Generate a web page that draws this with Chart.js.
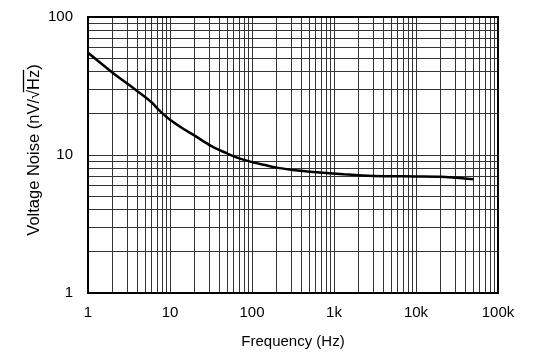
<!DOCTYPE html>
<html>
<head>
<meta charset="utf-8">
<script src="https://cdn.jsdelivr.net/npm/chart.js@4.4.1/dist/chart.umd.min.js"></script>
<style>
  html, body { margin: 0; padding: 0; background: #fff; }
</style>
</head>
<body>
<canvas id="noiseChart" width="539" height="362"></canvas>
<script>
// --- data ---
const freq  = [1, 2, 4, 6, 7.55, 10, 15, 19.3, 32, 49, 62, 95, 144, 200, 316, 615, 1300, 3000, 10000, 20000, 31000, 50000];
const noise = [55, 39.5, 29, 24, 20.8, 18, 15.3, 14, 11.6, 10.3, 9.7, 8.95, 8.45, 8.1, 7.8, 7.5, 7.25, 7.05, 7.0, 6.96, 6.83, 6.67];

const xDecades = [1, 10, 100, 1000, 10000, 100000];
const xLabels  = ['1', '10', '100', '1k', '10k', '100k'];
const yDecades = [1, 10, 100];
const yLabels  = ['1', '10', '100'];

const xTitle = 'Frequency (Hz)';
const yTitle = ['Voltage Noise (nV/\u221A', 'Hz', ')'];

const FONT = 'Liberation Sans, Arial, sans-serif';

// grid lines at 1..9 of every decade
const gridTicks = (decades) => {
    const out = [];
    decades.forEach((d, i) => {
        if (i === decades.length - 1) { out.push({ value: d }); return; }
        for (let k = 1; k < 10; k++) out.push({ value: d * k });
    });
    return out;
};

const labelFor = (decades, labels) => (v) => {
    const i = decades.indexOf(v);
    return i >= 0 ? labels[i] : '';
};

const frameAndTitles = {
    id: 'frameAndTitles',
    afterDraw(chart) {
        const { ctx, chartArea: a } = chart;
        ctx.save();
        ctx.strokeStyle = '#000';
        ctx.lineWidth = 2;
        ctx.strokeRect(a.left, a.top, a.right - a.left, a.bottom - a.top);

        ctx.fillStyle = '#000';
        ctx.font = '15px ' + FONT;
        ctx.textBaseline = 'middle';
        ctx.textAlign = 'center';
        ctx.fillText(xTitle, (a.left + a.right) / 2, 342);

        // rotated y title with an overline above Hz
        ctx.font = '16.5px ' + FONT;
        ctx.translate(34, 150);
        ctx.rotate(-Math.PI / 2);
        ctx.textAlign = 'left';
        const w0 = ctx.measureText(yTitle[0]).width;
        const w1 = ctx.measureText(yTitle[1]).width;
        const w2 = ctx.measureText(yTitle[2]).width;
        const wRoot = ctx.measureText('\u221A').width;
        const x = -(w0 + w1 + w2) / 2;
        ctx.fillText(yTitle[0], x, 0);
        ctx.fillText(yTitle[1], x + w0, 0);
        ctx.fillText(yTitle[2], x + w0 + w1, 0);
        ctx.lineWidth = 1.3;
        ctx.beginPath();
        ctx.moveTo(x + w0 - wRoot * 0.25, -10.5);
        ctx.lineTo(x + w0 + w1, -10.5);
        ctx.stroke();
        ctx.restore();
    }
};

new Chart(document.getElementById('noiseChart'), {
    type: 'line',
    data: {
        datasets: [{
            data: freq.map((f, i) => ({ x: f, y: noise[i] })),
            borderColor: '#000',
            borderWidth: 2.5,
            pointRadius: 0,
            fill: false,
            cubicInterpolationMode: 'monotone'
        }]
    },
    options: {
        responsive: false,
        animation: false,
        layout: { autoPadding: false, padding: { left: 0, top: 17, right: 41, bottom: 0 } },
        plugins: { legend: { display: false }, tooltip: { enabled: false } },
        scales: {
            x: {
                type: 'logarithmic',
                min: 1,
                max: 100000,
                afterBuildTicks: (s) => { s.ticks = gridTicks(xDecades); },
                afterFit: (s) => { s.height = 69; s.paddingLeft = 0; s.paddingRight = 0; },
                grid: { color: '#333', lineWidth: 1, drawTicks: false },
                border: { display: false },
                ticks: {
                    autoSkip: false,
                    maxRotation: 0,
                    padding: 11,
                    color: '#000',
                    font: { family: FONT, size: 15 },
                    callback: labelFor(xDecades, xLabels)
                }
            },
            y: {
                type: 'logarithmic',
                min: 1,
                max: 100,
                afterBuildTicks: (s) => { s.ticks = gridTicks(yDecades); },
                afterFit: (s) => { s.width = 88; s.paddingTop = 0; s.paddingBottom = 0; },
                grid: { color: '#333', lineWidth: 1, drawTicks: false },
                border: { display: false },
                ticks: {
                    autoSkip: false,
                    padding: 15,
                    color: '#000',
                    font: { family: FONT, size: 15 },
                    callback: labelFor(yDecades, yLabels)
                }
            }
        }
    },
    plugins: [frameAndTitles]
});
</script>
</body>
</html>
